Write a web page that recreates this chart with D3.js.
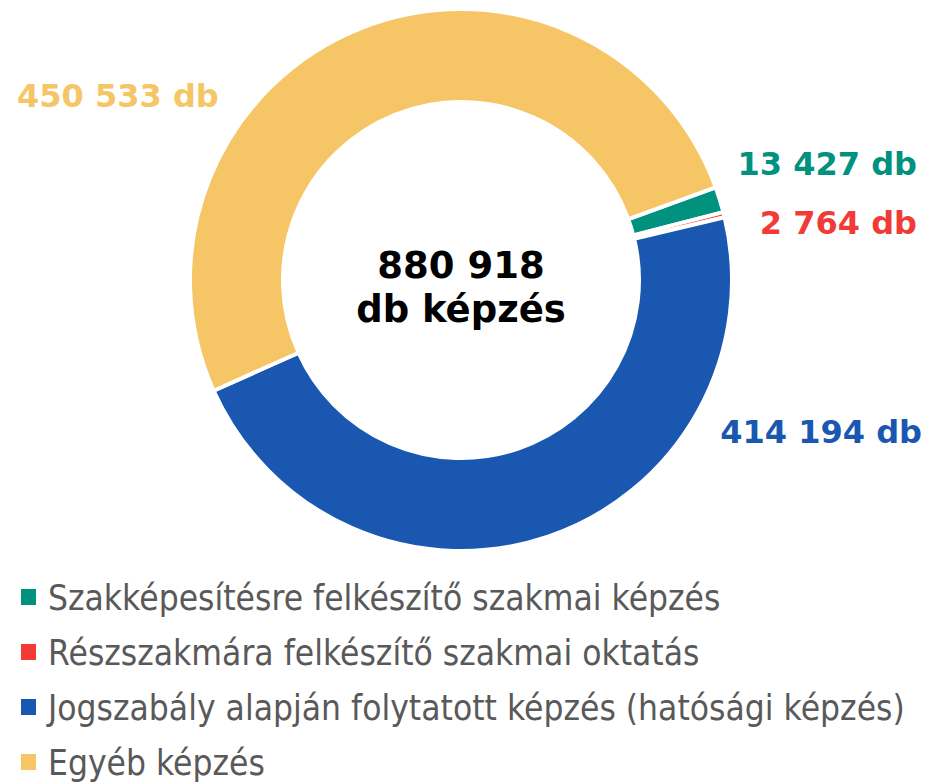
<!DOCTYPE html>
<html>
<head>
    <meta charset="utf-8">
    <style>
        body {
            margin: 0;
            background: #fff;
        }
        svg {
            display: block;
            font-family: 'DejaVu Sans', Verdana, sans-serif;
        }
        .center-label {
            font-weight: bold;
            fill: #000;
        }
        .value-label {
            font-weight: bold;
        }
        .legend text {
            fill: #595959;
        }
    </style>
</head>
<body>
    <svg width="930" height="784"></svg>

<script src="https://cdn.jsdelivr.net/npm/d3@7"></script>
<script>
    // categories, values, colours
    const categories = [
        "Szakképesítésre felkészítő szakmai képzés",
        "Részszakmára felkészítő szakmai oktatás",
        "Jogszabály alapján folytatott képzés (hatósági képzés)",
        "Egyéb képzés"
    ];
    const values = [13427, 2764, 414194, 450533];
    const colors = ["#00917f", "#f23b36", "#1957b0", "#f5c566"];
    const valueLabels = ["13 427 db", "2 764 db", "414 194 db", "450 533 db"];
    const centerLines = ["880 918", "db képzés"];

    const cx = 461, cy = 280;
    const outerR = 271, innerR = 178;

    let svg = d3.select("svg");

    let data = categories.map(function (c, i) {
        return { name: c, value: values[i], color: colors[i], label: valueLabels[i] };
    });

    // Excel-style doughnut, first slice starting a bit right of the top
    let start = 70 * Math.PI / 180;
    let pie = d3.pie()
        .value(function (d) { return d.value })
        .sort(null)
        .startAngle(start)
        .endAngle(start + 2 * Math.PI);

    let arc = d3.arc()
        .innerRadius(innerR)
        .outerRadius(outerR);

    let g = svg.append("g")
        .attr("transform", `translate(${cx},${cy})`);

    g.selectAll(".slice")
        .data(pie(data))
        .join("path")
        .attr("class", "slice")
        .attr("d", arc)
        .style("fill", function (d) { return d.data.color })
        .style("stroke", "#fff")
        .style("stroke-width", 4);

    // total in the hole
    g.selectAll(".center-label")
        .data(centerLines)
        .join("text")
        .attr("class", "center-label")
        .attr("text-anchor", "middle")
        .attr("y", function (d, i) { return -2 + i * 44 })
        .style("font-size", "37px")
        .text(function (d) { return d });

    // value labels placed outside the ring (manually laid out as in the source)
    let labelPos = [
        { x: 917, y: 175, anchor: "end" },
        { x: 917, y: 234, anchor: "end" },
        { x: 922, y: 443, anchor: "end" },
        { x: 17, y: 107, anchor: "start" }
    ];

    svg.append("g")
        .selectAll(".value-label")
        .data(data)
        .join("text")
        .attr("class", "value-label")
        .attr("x", function (d, i) { return labelPos[i].x })
        .attr("y", function (d, i) { return labelPos[i].y })
        .attr("text-anchor", function (d, i) { return labelPos[i].anchor })
        .style("font-size", "32px")
        .style("fill", function (d) { return d.color })
        .text(function (d) { return d.label });

    // legend
    let rowY = d3.scalePoint()
        .domain(categories)
        .range([610, 775]);

    let legend = svg.append("g").attr("class", "legend");

    let rows = legend.selectAll("g")
        .data(data)
        .join("g")
        .attr("transform", function (d) { return `translate(0,${rowY(d.name)})` });

    rows.append("rect")
        .attr("x", 21)
        .attr("y", -21)
        .attr("width", 15)
        .attr("height", 16)
        .style("fill", function (d) { return d.color });

    let texts = rows.append("text")
        .attr("x", 0)
        .attr("y", 0)
        .style("font-size", "36px")
        .text(function (d) { return d.name });

    // the source uses a narrow face, so squeeze the text horizontally
    let longest = d3.max(texts.nodes(), function (n) { return n.getComputedTextLength() });
    let squeeze = 857 / longest;
    texts.attr("transform", `translate(48,0) scale(${squeeze},1)`);
</script>
</body>
</html>
